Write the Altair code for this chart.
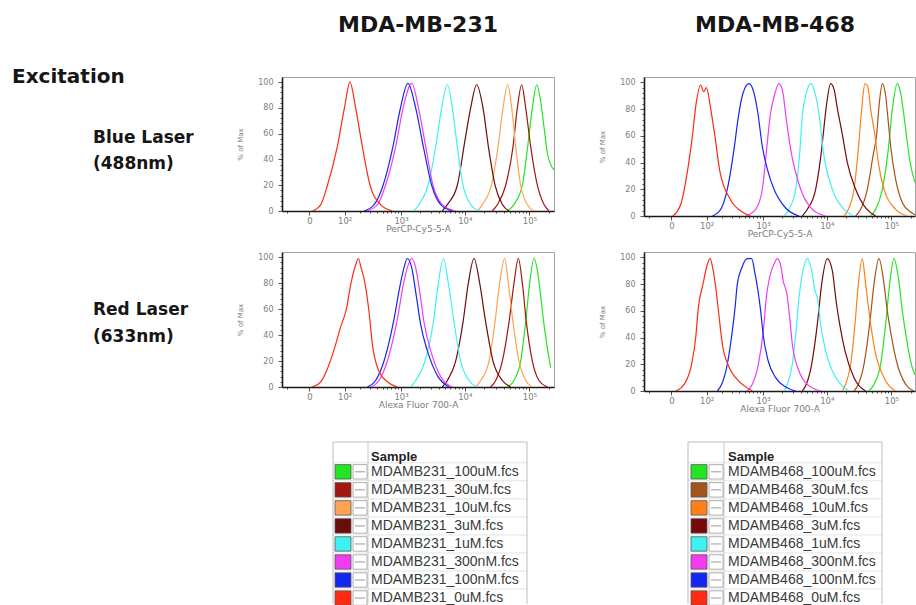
import altair as alt
import pandas as pd

# ---------------------------------------------------------------- samples
DOSES = ["100uM", "30uM", "10uM", "3uM", "1uM", "300nM", "100nM", "0uM"]
SAMPLES_231 = ["MDAMB231_" + d + ".fcs" for d in DOSES]
SAMPLES_468 = ["MDAMB468_" + d + ".fcs" for d in DOSES]
COLORS_231 = ["#22e622", "#a3170c", "#ffa355", "#6b0c0c", "#3ff2f2", "#f23cf2", "#1427f0", "#ff2a12"]
COLORS_468 = ["#22e622", "#a2541a", "#ff8019", "#760a0a", "#3ff2f2", "#f23cf2", "#1427f0", "#ff2a12"]

# ---------------------------------------------------------------- axes
X_TICKS = [0, 100, 1000, 10000, 100000]
X_TICK_LABELS = ["0", "10²", "10³", "10⁴", "10⁵"]
X_MINOR = [-50, 200, 300, 400, 500, 600, 700, 800, 900,
           2000, 3000, 4000, 5000, 6000, 7000, 8000, 9000,
           20000, 30000, 40000, 50000, 60000, 70000, 80000, 90000, 200000]
Y_TICKS = [0, 20, 40, 60, 80, 100]
Y_MINOR = [v for v in range(0, 101, 4) if v % 20]

# ------------------------------------------- MDA-MB-231, blue laser (PerCP-Cy5-5-A)
B231_0uM_FL = [5, 20, 36, 68, 99, 129, 167, 223, 305, 464, 724]
B231_0uM_PCT = [0, 5, 20, 50, 80, 100, 80, 50, 20, 5, 0]
B231_100nM_FL = [240, 360, 510, 740, 960, 1290, 1710, 2260, 3050, 4220, 6400]
B231_100nM_PCT = [0, 5, 20, 50, 78, 99, 80, 50, 20, 5, 0]
B231_300nM_FL = [270, 410, 560, 820, 1080, 1480, 1930, 2460, 3200, 4480, 7200]
B231_300nM_PCT = [0, 5, 20, 50, 80, 99, 78, 50, 20, 5, 0]
B231_1uM_FL = [1610, 1930, 2680, 3530, 4370, 5360, 6410, 7660, 9390, 12340, 16610]
B231_1uM_PCT = [0, 5, 20, 50, 80, 98, 80, 50, 20, 5, 0]
B231_3uM_FL = [4480, 5360, 7660, 10080, 12340, 15280, 19150, 23200, 29410, 38170, 48390]
B231_3uM_PCT = [0, 5, 20, 55, 80, 98, 80, 50, 20, 5, 0]
B231_10uM_FL = [15690, 18740, 25810, 32720, 39080, 46140, 53200, 61320, 73260, 92860, 117700]
B231_10uM_PCT = [0, 5, 20, 50, 80, 98, 80, 50, 20, 5, 0]
B231_30uM_FL = [26750, 31990, 42970, 55780, 65070, 75900, 87520, 104540, 132540, 168000, 200600]
B231_30uM_PCT = [0, 5, 20, 50, 80, 98, 80, 50, 20, 5, 0]
B231_100uM_FL = [45590, 57620, 77730, 93980, 110950, 129430, 149230, 168000, 189100, 212900, 239700]
B231_100uM_PCT = [0, 5, 20, 50, 80, 98, 85, 65, 45, 36, 32]

# ------------------------------------------- MDA-MB-468, blue laser (PerCP-Cy5-5-A)
B468_0uM_FL = [2, 16, 31, 44, 57, 73, 86, 99, 122, 149, 183, 289, 458, 630]
B468_0uM_PCT = [0, 9, 34, 59, 85, 98, 93, 96, 80, 59, 34, 12, 3, 0]
B468_100nM_FL = [132, 191, 252, 331, 392, 471, 592, 715, 820, 975, 1172, 1497, 2287, 3698]
B468_100nM_PCT = [0, 5, 20, 50, 74, 92, 99, 92, 78, 52, 35, 20, 6, 0]
B468_300nM_FL = [521, 761, 975, 1144, 1293, 1552, 1796, 2076, 2287, 2740, 3927, 5965, 9612]
B468_300nM_PCT = [0, 5, 20, 50, 74, 92, 99, 92, 76, 50, 20, 5, 0]
B468_1uM_FL = [2153, 2580, 3280, 3834, 4119, 4813, 5688, 6563, 7757, 8739, 12190, 18480, 26400]
B468_1uM_PCT = [0, 5, 20, 50, 72, 92, 99, 92, 73, 50, 20, 5, 0]
B468_3uM_FL = [4169, 4989, 6721, 8333, 8948, 9843, 11490, 13090, 14400, 17420, 20820, 28010, 39970, 57080]
B468_3uM_PCT = [0, 5, 20, 50, 64, 82, 99, 94, 82, 61, 40, 20, 6, 0]
B468_10uM_FL = [18480, 21570, 26400, 30810, 34670, 39040, 42930, 47780, 55740, 62770, 76790, 116300, 176100]
B468_10uM_PCT = [0, 5, 20, 50, 80, 99, 97, 80, 60, 40, 20, 5, 0]
B468_30uM_FL = [28010, 33470, 42430, 51920, 59150, 64270, 72340, 81460, 89590, 98500, 113560, 147460, 198260, 231000]
B468_30uM_PCT = [0, 5, 20, 45, 61, 82, 99, 90, 70, 50, 30, 10, 3, 1]
B468_100uM_FL = [47780, 57080, 72340, 89590, 103280, 123360, 138940, 156390, 176100, 198260, 231000]
B468_100uM_PCT = [0, 5, 20, 50, 80, 99, 92, 75, 55, 38, 25]

# ------------------------------------------- MDA-MB-231, red laser (Alexa Fluor 700-A)
R231_0uM_FL = [4, 20, 33, 62, 79, 109, 134, 167, 188, 211, 246, 293, 335, 435, 599, 872]
R231_0uM_PCT = [0, 4, 12, 33, 45, 60, 79, 94, 99, 92, 81, 58, 33, 12, 4, 0]
R231_100nM_FL = [274, 382, 528, 680, 790, 928, 1116, 1262, 1479, 1753, 2052, 2611, 3834, 5688]
R231_100nM_PCT = [0, 5, 20, 40, 55, 74, 92, 99, 92, 70, 48, 28, 8, 0]
R231_300nM_FL = [313, 435, 599, 770, 894, 1050, 1262, 1479, 1711, 2003, 2314, 2945, 4219, 6409]
R231_300nM_PCT = [0, 5, 20, 40, 55, 75, 92, 99, 92, 72, 50, 28, 8, 0]
R231_1uM_FL = [1426, 1711, 2401, 3242, 3881, 4643, 5553, 6803, 8635, 11630, 15650]
R231_1uM_PCT = [0, 5, 20, 50, 80, 99, 80, 50, 20, 5, 0]
R231_3uM_FL = [4480, 5360, 7220, 9390, 11350, 13900, 17010, 21060, 27350, 38170, 51300]
R231_3uM_PCT = [0, 5, 20, 50, 80, 99, 80, 50, 20, 5, 0]
R231_10uM_FL = [14750, 17630, 23730, 29370, 34670, 41430, 47210, 55740, 69000, 87480, 110900]
R231_10uM_PCT = [0, 5, 20, 50, 80, 99, 80, 50, 20, 5, 0]
R231_30uM_FL = [25170, 30080, 38130, 48350, 57770, 67380, 77690, 89590, 110910, 140560, 189060]
R231_30uM_PCT = [0, 5, 20, 50, 80, 99, 80, 50, 20, 5, 0]
R231_100uM_FL = [45550, 57580, 73220, 87480, 100860, 117660, 132540, 149230, 168000, 189100, 212900]
R231_100uM_PCT = [0, 5, 20, 50, 80, 99, 90, 70, 48, 30, 15]

# ------------------------------------------- MDA-MB-468, red laser (Alexa Fluor 700-A)
R468_0uM_FL = [7, 23, 42, 55, 64, 83, 104, 118, 134, 153, 172, 205, 270, 353, 489, 671]
R468_0uM_PCT = [0, 5, 20, 40, 62, 80, 95, 99, 92, 78, 61, 35, 18, 10, 4, 0]
R468_100nM_FL = [165, 199, 252, 309, 344, 377, 447, 555, 654, 742, 830, 916, 1012, 1202, 1591, 2287, 3280]
R468_100nM_PCT = [0, 5, 20, 45, 62, 80, 92, 99, 99, 88, 75, 60, 41, 23, 10, 3, 0]
R468_300nM_FL = [555, 671, 840, 1012, 1130, 1277, 1497, 1690, 1908, 2102, 2401, 2643, 2910, 3698, 4989, 8039]
R468_300nM_PCT = [0, 5, 20, 45, 70, 85, 95, 99, 94, 82, 72, 55, 35, 15, 5, 0]
R468_1uM_FL = [2153, 2430, 2910, 3401, 3698, 4270, 4989, 5825, 6563, 7137, 8039, 9612, 12190, 16410, 22090]
R468_1uM_PCT = [0, 5, 20, 50, 70, 90, 99, 90, 75, 70, 50, 30, 15, 5, 0]
R468_3uM_FL = [4169, 4813, 5825, 7137, 8333, 10200, 12190, 14070, 15840, 19150, 26400, 39970]
R468_3uM_PCT = [0, 5, 20, 50, 80, 99, 90, 66, 50, 30, 10, 0]
R468_10uM_FL = [17420, 19610, 23440, 27350, 30810, 35500, 39970, 47780, 55740, 76790, 116300]
R468_10uM_PCT = [0, 5, 20, 50, 80, 99, 80, 50, 30, 10, 0]
R468_30uM_FL = [26400, 30810, 37690, 46100, 53790, 64270, 76790, 86440, 100860, 123360, 166000, 223300]
R468_30uM_PCT = [0, 5, 20, 50, 80, 99, 80, 60, 40, 20, 5, 0]
R468_100uM_FL = [45020, 53790, 68190, 81460, 93940, 109580, 127860, 147500, 170000, 198260, 231000]
R468_100uM_PCT = [0, 5, 20, 50, 80, 99, 85, 60, 40, 22, 12]


def curve_table(samples, curves):
    rows = []
    for name, (fl, pct) in zip(samples, curves):
        rows += [{"sample": name, "fl": a, "pct": b} for a, b in zip(fl, pct)]
    return pd.DataFrame(rows)


BLUE_231 = curve_table(SAMPLES_231, [
    (B231_100uM_FL, B231_100uM_PCT), (B231_30uM_FL, B231_30uM_PCT),
    (B231_10uM_FL, B231_10uM_PCT), (B231_3uM_FL, B231_3uM_PCT),
    (B231_1uM_FL, B231_1uM_PCT), (B231_300nM_FL, B231_300nM_PCT),
    (B231_100nM_FL, B231_100nM_PCT), (B231_0uM_FL, B231_0uM_PCT)])
BLUE_468 = curve_table(SAMPLES_468, [
    (B468_100uM_FL, B468_100uM_PCT), (B468_30uM_FL, B468_30uM_PCT),
    (B468_10uM_FL, B468_10uM_PCT), (B468_3uM_FL, B468_3uM_PCT),
    (B468_1uM_FL, B468_1uM_PCT), (B468_300nM_FL, B468_300nM_PCT),
    (B468_100nM_FL, B468_100nM_PCT), (B468_0uM_FL, B468_0uM_PCT)])
RED_231 = curve_table(SAMPLES_231, [
    (R231_100uM_FL, R231_100uM_PCT), (R231_30uM_FL, R231_30uM_PCT),
    (R231_10uM_FL, R231_10uM_PCT), (R231_3uM_FL, R231_3uM_PCT),
    (R231_1uM_FL, R231_1uM_PCT), (R231_300nM_FL, R231_300nM_PCT),
    (R231_100nM_FL, R231_100nM_PCT), (R231_0uM_FL, R231_0uM_PCT)])
RED_468 = curve_table(SAMPLES_468, [
    (R468_100uM_FL, R468_100uM_PCT), (R468_30uM_FL, R468_30uM_PCT),
    (R468_10uM_FL, R468_10uM_PCT), (R468_3uM_FL, R468_3uM_PCT),
    (R468_1uM_FL, R468_1uM_PCT), (R468_300nM_FL, R468_300nM_PCT),
    (R468_100nM_FL, R468_100nM_PCT), (R468_0uM_FL, R468_0uM_PCT)])

# ---------------------------------------------------------------- styling
SAMPLE_COLOR = alt.Color(
    "sample:N",
    scale=alt.Scale(domain=SAMPLES_231 + SAMPLES_468, range=COLORS_231 + COLORS_468),
    legend=None,
)
AXIS_GREY = "#7c7c7c"
TICK_FONT = "DejaVu Sans"
ONE = pd.DataFrame({"k": [0]})

x_label_expr = "".join(
    "datum.value === {} ? '{}' : ".format(v, t) for v, t in zip(X_TICKS, X_TICK_LABELS)
) + "''"
x_major_test = "indexof({}, datum.value) >= 0".format(X_TICKS)


def histogram_panel(df, x_title, width, height, x_max):
    x_axis = alt.Axis(
        values=X_TICKS + X_MINOR, labelExpr=x_label_expr, labelOverlap=False,
        labelFlush=False, grid=False,
        tickSize={"condition": {"test": x_major_test, "value": 4}, "value": 2},
        tickColor="#555555", domainColor="#1a1a1a", domainWidth=1.6,
        labelColor=AXIS_GREY, labelFont=TICK_FONT, labelFontSize=8.5, labelPadding=1,
        titleFont=TICK_FONT, titleFontSize=9, titleFontWeight="normal",
        titleColor=AXIS_GREY, titlePadding=0,
    )
    y_axis = alt.Axis(
        values=Y_TICKS + Y_MINOR, labelExpr="datum.value % 20 === 0 ? datum.label : ''",
        labelOverlap=False, labelFlush=False, grid=False,
        tickSize={"condition": {"test": "datum.value % 20 === 0", "value": 4}, "value": 2},
        tickColor="#555555", domainColor="#1a1a1a", domainWidth=1.6,
        labelColor=AXIS_GREY, labelFont=TICK_FONT, labelFontSize=8, labelPadding=5,
        titleFont=TICK_FONT, titleFontSize=7, titleFontWeight="normal",
        titleColor=AXIS_GREY, titlePadding=14,
    )
    return alt.Chart(df).mark_line(strokeWidth=1.2, interpolate="monotone", clip=True).encode(
        x=alt.X("fl:Q", title=x_title, axis=x_axis,
                scale=alt.Scale(type="symlog", constant=40, domain=[-66, x_max], nice=False)),
        y=alt.Y("pct:Q", title="% of Max", axis=y_axis,
                scale=alt.Scale(domain=[0, 104], nice=False)),
        color=SAMPLE_COLOR,
    ).properties(width=width, height=height,
                 view=alt.ViewBackground(stroke="#a3a3a3", strokeWidth=1))


def text_label(txt, x, y, size):
    return alt.Chart(ONE).mark_text(
        text=txt, align="left", baseline="alphabetic", font="DejaVu Sans",
        fontSize=size, fontWeight="bold", color="#161616",
    ).encode(x=alt.value(x), y=alt.value(y))


def spacer(width, height):
    return alt.Chart(ONE).mark_point(opacity=0, size=1).encode(
        x=alt.value(width / 2), y=alt.value(height / 2)
    ).properties(width=width, height=height)


# ---------------------------------------------------------------- legend tables
LEG_W, LEG_H = 194, 162
LEG_Y = alt.Scale(domain=[-0.654, 8.33], reverse=True, nice=False, zero=False)


def sample_table(samples, cell_width, ox, text_x, sep_x):
    df = pd.DataFrame({"sample": samples, "row": list(range(1, len(samples) + 1))})
    base = alt.Chart(df).transform_calculate(
        top="datum.row - 0.4", bot="datum.row + 0.4", edge="datum.row - 0.5"
    )
    row_lines = base.mark_rule(color="#e3e3e3", strokeWidth=1).encode(
        y=alt.Y("edge:Q", scale=LEG_Y, axis=None), x=alt.value(ox), x2=alt.value(ox + LEG_W))
    column_line = alt.Chart(ONE).mark_rule(color="#c9c9c9").encode(
        x=alt.value(ox + sep_x), y=alt.value(0), y2=alt.value(LEG_H))
    frame_top = alt.Chart(ONE).mark_rule(color="#bdbdbd").encode(
        x=alt.value(ox), x2=alt.value(ox + LEG_W), y=alt.value(0))
    frame_left = alt.Chart(ONE).mark_rule(color="#bdbdbd").encode(
        x=alt.value(ox), y=alt.value(0), y2=alt.value(LEG_H))
    frame_right = alt.Chart(ONE).mark_rule(color="#bdbdbd").encode(
        x=alt.value(ox + LEG_W), y=alt.value(0), y2=alt.value(LEG_H))
    swatch = base.mark_rect(stroke="#555555", strokeWidth=0.8).encode(
        x=alt.value(ox + sep_x - 33), x2=alt.value(ox + sep_x - 17),
        y=alt.Y("top:Q", scale=LEG_Y, axis=None), y2="bot:Q", color=SAMPLE_COLOR)
    icon = base.mark_rect(fill="white", stroke="#9a9a9a", strokeWidth=0.8).encode(
        x=alt.value(ox + sep_x - 15), x2=alt.value(ox + sep_x - 1),
        y=alt.Y("top:Q", scale=LEG_Y, axis=None), y2="bot:Q")
    icon_bar = base.mark_rule(color="#9a9a9a").encode(
        x=alt.value(ox + sep_x - 13), x2=alt.value(ox + sep_x - 3),
        y=alt.Y("row:Q", scale=LEG_Y, axis=None))
    names = base.mark_text(
        align="left", baseline="middle", font="Liberation Sans", fontSize=14, color="#3a3a3a"
    ).encode(x=alt.value(ox + text_x), y=alt.Y("row:Q", scale=LEG_Y, axis=None), text="sample:N")
    header = alt.Chart(ONE).mark_text(
        text="Sample", align="left", baseline="middle", font="Liberation Sans",
        fontSize=13, fontWeight="bold", color="#222222",
    ).encode(x=alt.value(ox + text_x), y=alt.value(15))
    return alt.layer(row_lines, column_line, frame_top, frame_left, frame_right,
                     swatch, icon, icon_bar, names, header).properties(width=cell_width, height=LEG_H)


# ---------------------------------------------------------------- layout grid
# columns: row labels | MDA-MB-231 | gap | MDA-MB-468
COL_W = [282, 272, 90, 271]
ROW_H = [77, 139, 36, 139, 51, 162]

cells = [
    spacer(COL_W[0], ROW_H[0]),
    text_label("MDA-MB-231", 56, 32, 22).properties(width=COL_W[1], height=ROW_H[0]),
    spacer(COL_W[2], ROW_H[0]),
    text_label("MDA-MB-468", 51, 32, 22).properties(width=COL_W[3], height=ROW_H[0]),

    alt.layer(
        text_label("Excitation", 12, 6, 20),
        text_label("Blue Laser", 93, 66, 17),
        text_label("(488nm)", 93, 92, 17),
    ).properties(width=COL_W[0], height=134),
    histogram_panel(BLUE_231, "PerCP-Cy5-5-A", COL_W[1], 134, 239600),
    spacer(COL_W[2], ROW_H[1]),
    histogram_panel(BLUE_468, "PerCP-Cy5-5-A", COL_W[3], 139, 231400),

    spacer(COL_W[0], ROW_H[2]), spacer(COL_W[1], ROW_H[2]),
    spacer(COL_W[2], ROW_H[2]), spacer(COL_W[3], ROW_H[2]),

    alt.layer(
        text_label("Red Laser", 93, 63, 17),
        text_label("(633nm)", 93, 90, 17),
    ).properties(width=COL_W[0], height=135),
    histogram_panel(RED_231, "Alexa Fluor 700-A", COL_W[1], 135, 239600),
    spacer(COL_W[2], ROW_H[3]),
    histogram_panel(RED_468, "Alexa Fluor 700-A", COL_W[3], 139, 231400),

    spacer(COL_W[0], ROW_H[4]), spacer(COL_W[1], ROW_H[4]),
    spacer(COL_W[2], ROW_H[4]), spacer(COL_W[3], ROW_H[4]),

    spacer(COL_W[0], ROW_H[5]),
    sample_table(SAMPLES_231, COL_W[1], 51, 38, 35),
    spacer(COL_W[2], ROW_H[5]),
    sample_table(SAMPLES_468, COL_W[3], 44, 40, 36),
]

chart = alt.concat(
    *cells, columns=4, spacing=0, bounds="flush",
).properties(padding=0, background="white").configure_view(strokeWidth=0)

chart.save("out.html", embed_options={"renderer": "svg", "actions": False})
